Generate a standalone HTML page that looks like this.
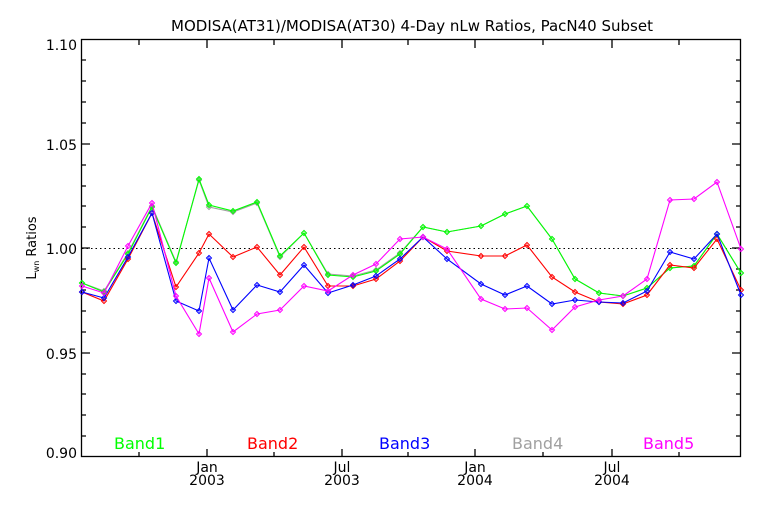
<!DOCTYPE html>
<html><head><style>body{margin:0;background:#fff}svg{display:block}text{font-family:"DejaVu Sans","Liberation Sans",sans-serif}</style></head><body>
<svg width="768" height="512" viewBox="0 0 768 512" xmlns="http://www.w3.org/2000/svg">
<defs>
<marker id="mg" markerUnits="userSpaceOnUse" markerWidth="8" markerHeight="8" refX="4" refY="4"><path d="M1.5 4L4 1.5L6.5 4L4 6.5Z" fill="none" stroke="#00ff00"/></marker>
<marker id="mk" markerUnits="userSpaceOnUse" markerWidth="8" markerHeight="8" refX="4" refY="4"><path d="M1.5 4L4 1.5L6.5 4L4 6.5Z" fill="none" stroke="#a0a0a0"/></marker>
<marker id="mr" markerUnits="userSpaceOnUse" markerWidth="8" markerHeight="8" refX="4" refY="4"><path d="M1.5 4L4 1.5L6.5 4L4 6.5Z" fill="none" stroke="#ff0000"/></marker>
<marker id="mb" markerUnits="userSpaceOnUse" markerWidth="8" markerHeight="8" refX="4" refY="4"><path d="M1.5 4L4 1.5L6.5 4L4 6.5Z" fill="none" stroke="#0000ff"/></marker>
<marker id="mm" markerUnits="userSpaceOnUse" markerWidth="8" markerHeight="8" refX="4" refY="4"><path d="M1.5 4L4 1.5L6.5 4L4 6.5Z" fill="none" stroke="#ff00ff"/></marker>
</defs>
<rect width="768" height="512" fill="#fff"/>
<text x="412" y="31" font-size="15" text-anchor="middle">MODISA(AT31)/MODISA(AT30) 4-Day nLw Ratios, PacN40 Subset</text>
<g stroke="#000" stroke-width="1.3" fill="none">
<rect x="81.5" y="39.5" width="659" height="417"/>
<path d="M81 144h9M81 248h9M81 353h9M741 144h-9M741 248h-9M741 353h-9
M81 60h5M81 81h5M81 102h5M81 123h5M81 165h5M81 186h5M81 206h5M81 227h5M81 269h5M81 290h5M81 311h5M81 332h5M81 374h5M81 394h5M81 415h5M81 436h5
M741 60h-5M741 81h-5M741 102h-5M741 123h-5M741 165h-5M741 186h-5M741 206h-5M741 227h-5M741 269h-5M741 290h-5M741 311h-5M741 332h-5M741 374h-5M741 394h-5M741 415h-5M741 436h-5
M207 457v-8M342 457v-8M475 457v-8M612 457v-8M139 457v-5M274 457v-5M408 457v-5M543 457v-5M679 457v-5
M207 40v8M342 40v8M475 40v8M612 40v8M139 40v5M274 40v5M408 40v5M543 40v5M679 40v5"/>
</g>
<line x1="82" y1="248.5" x2="740" y2="248.5" stroke="#000" stroke-dasharray="1.5,3"/>
<g font-size="14" text-anchor="end">
<text x="77" y="50">1.10</text><text x="77" y="150">1.05</text><text x="77" y="254">1.00</text><text x="77" y="359">0.95</text><text x="77" y="458">0.90</text>
</g>
<g font-size="14" text-anchor="middle">
<text x="207" y="472">Jan</text><text x="207" y="485">2003</text>
<text x="342" y="472">Jul</text><text x="342" y="485">2003</text>
<text x="475" y="472">Jan</text><text x="475" y="485">2004</text>
<text x="612" y="472">Jul</text><text x="612" y="485">2004</text>
</g>
<text transform="translate(36,248) rotate(-90)" font-size="13" text-anchor="middle">L<tspan font-size="8" dy="3">wn</tspan><tspan dy="-3"> Ratios</tspan></text>
<g font-size="16">
<text x="114" y="449" fill="#00ff00">Band1</text>
<text x="247" y="449" fill="#ff0000">Band2</text>
<text x="379" y="449" fill="#0000ff">Band3</text>
<text x="512" y="449" fill="#a0a0a0">Band4</text>
<text x="643" y="449" fill="#ff00ff">Band5</text>
</g>
<g fill="none" stroke-width="1.1">
<polyline stroke="#a0a0a0" marker-start="url(#mk)" marker-mid="url(#mk)" marker-end="url(#mk)" points="82,283 104,291 128,253 152,206 176,262 199,180 209,207 233,212 257,203 280,257 304,233 328,274 353,276 376,270 400,253 423,227 447,232 481,226 505,214 527,206 552,239 575,279 599,293 623,296 647,288 670,268 694,266 717,234 741,273"/>
<polyline stroke="#00ff00" marker-start="url(#mg)" marker-mid="url(#mg)" marker-end="url(#mg)" points="82,283 104,292 128,254 152,207 176,263 199,179 209,205 233,211 257,202 280,256 304,233 328,275 353,277 376,271 400,254 423,227 447,232 481,226 505,214 527,206 552,239 575,279 599,293 623,296 647,288 670,268 694,266 717,234 741,273"/>
<polyline stroke="#ff0000" marker-start="url(#mr)" marker-mid="url(#mr)" marker-end="url(#mr)" points="82,292 104,301 128,259 152,213 176,287 199,253 209,234 233,257 257,247 280,275 304,247 328,286 353,286 376,279 400,261 423,237 447,251 481,256 505,256 527,245 552,277 575,292 599,302 623,304 647,295 670,265 694,268 717,239 741,290"/>
<polyline stroke="#0000ff" marker-start="url(#mb)" marker-mid="url(#mb)" marker-end="url(#mb)" points="82,292 104,298 128,257 152,213 176,301 199,311 209,258 233,310 257,285 280,292 304,265 328,293 353,285 376,276 400,259 423,237 447,259 481,284 505,295 527,286 552,304 575,300 599,302 623,303 647,291 670,252 694,259 717,234 741,295"/>
<polyline stroke="#ff00ff" marker-start="url(#mm)" marker-mid="url(#mm)" marker-end="url(#mm)" points="82,286 104,293 128,246 152,203 176,296 199,334 209,278 233,332 257,314 280,310 304,286 328,291 353,275 376,264 400,239 423,237 447,249 481,299 505,309 527,308 552,330 575,307 599,300 623,296 647,279 670,200 694,199 717,182 741,249"/>
</g>
</svg>
</body></html>
